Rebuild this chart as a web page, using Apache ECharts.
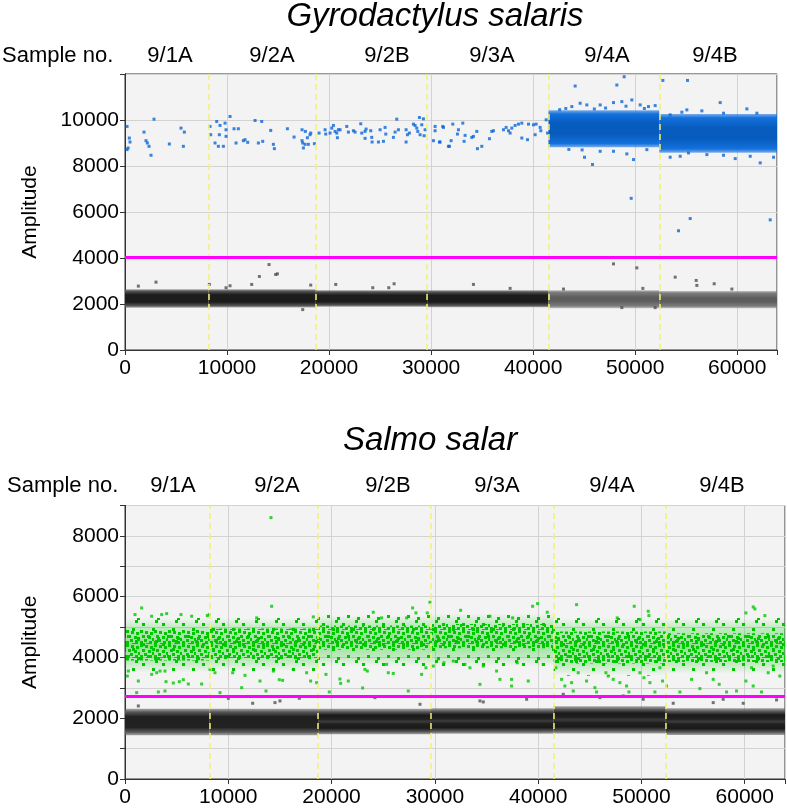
<!DOCTYPE html>
<html><head><meta charset="utf-8">
<script src="https://cdn.jsdelivr.net/npm/echarts@6/dist/echarts.min.js"></script>
<style>html,body{margin:0;padding:0;background:#fff}#c{width:787px;height:808px}</style>
</head><body><div id="c"></div><script>
// ---------- shared ----------
const sampleNames = ['9/1A', '9/2A', '9/2B', '9/3A', '9/4A', '9/4B'];
const sampleBounds = [8190, 18700, 29620, 41500, 52360];
const bandEdges = [0, 8190, 18700, 29620, 41500, 52360, 63900];
const xMax = 63900;

// ---------- Gyrodactylus salaris ----------
const gsThreshold = 4050;
const gsYMax = 12000;
// negative droplet cloud extent per sample
const gsNegLo = [1840, 1850, 1880, 1860, 1820, 1820];
const gsNegHi = [2640, 2640, 2600, 2600, 2600, 2560];
// positive dense cloud (9/4A, 9/4B)
const gsPosEdges = [41500, 52360, 63900];
const gsPosLo = [8820, 8580];
const gsPosHi = [10420, 10260];
// individual positive droplets
const gsPosPoints = [
 [200,9720],[200,8713],[300,8783],[425,9215],[490,9043],[1863,9474],[2059,9101],[2190,9000],[2353,8856],[2549,8467],
 [2843,10036],[4346,8957],[5490,9647],[5817,9474],[5719,8856],
 [8333,9720],[8398,9360],[8824,9000],[8987,9936],[9150,8856],[9248,9360],[9314,9763],[9641,8856],[9804,9864],[9902,9576],
 [9902,9288],[10294,10152],[10686,9619],[10882,9000],[11111,9619],[11601,9101],[11765,9144],[12026,9029],[12745,9979],
 [13072,9000],[13399,9936],[13497,9072],[14281,9547],[14542,8942],[14640,8755],[15915,9619],[16569,9259],[17353,9576],
 [17353,9101],[17418,9000],[17484,8784],[17680,9504],[17647,8942],[17876,9230],[17974,8942],[18137,9360],[18203,9432],[18562,8971],
 [19020,9432],[19608,9576],[19673,9389],[20098,9432],[20261,9647],[20425,9763],[20588,9504],[20752,9432],[20915,9576],
 [20817,9230],[21078,9576],[21732,9720],[21895,9475],[22386,9533],[22549,9475],[23105,9835],[23203,9432],[23529,9504],
 [23627,9605],[23529,9202],[24085,9533],[24183,9245],[24216,9043],[24837,9043],[25000,9576],[25327,9072],[25490,9677],
 [25556,9389],[26308,9245],[26471,9475],[26634,10036],[26797,9576],[27549,9576],[27549,9043],[27680,9360],[27876,9432],
 [28268,9821],[28431,9763],[28595,9647],[28693,9504],[28856,10109],[28922,9360],[29085,9792],[29248,10051],[29314,9317],[29412,9576],
 [30229,9101],[30392,9720],[30392,9533],[30817,9043],[31144,9720],[31699,8856],
 [30882,9042],[31209,9677],[31797,8856],[32124,9821],[31961,9101],[32680,9576],[32582,9389],[33104,9864],[33333,9331],
 [33235,9072],[33987,9245],[34150,9288],[34477,9504],[34542,8755],[34967,8856],[35719,9187],[35948,9504],[36111,9533],
 [37092,9576],[37353,9677],[37582,9533],[37745,9432],[37908,9648],[38235,9763],[38562,9821],[38889,9864],[38889,9216],
 [39543,9821],[39445,9144],[40033,9792],[40294,9821],[40196,9360],[40686,9677],[40752,9533],[41275,10008],[41405,9432],
 [44118,11477],[48203,11520],[48922,11880],[52712,11721],[55131,11721],[58333,10757],[49608,6595],[45817,8064],[45033,8380],
 [49837,8280],[55392,5716],[54248,5184],[63235,5659],[62255,8136],
 [43791,10584],[44608,10728],[45262,10656],[46569,10656],[47876,10757],[48693,10800],[49674,10872],[50490,10656],[51307,10584],[51961,10627],
 [42600,10450],[43200,10500],[47100,10520],[49100,10600],[50900,10500],[46000,10480],
 [53431,10224],[54575,10339],[55065,10440],[56536,10397],[58660,10296],[60948,10483],[61928,10296],
 [53431,8381],[54412,8424],[55229,8568],[57026,8496],[58660,8467],[59804,8323],[61275,8424],[63562,8381],
 [46569,8640],[47876,8640],[49183,8525],[51144,8712],[43500,8720],[44800,8700]
];
// negative outliers
const gsNegPoints = [
 [1307,2778],[3039,2951],[8268,2851],[9902,2707],[10294,2793],[12418,2851],[13170,3197],[14118,3715],[14771,3283],[14935,3312],
 [17418,1757],[18203,2822],[20654,2851],[24281,2707],[25850,2707],[26373,2880],
 [34150,2851],[37745,2679],[42974,2650],[47876,3744],[50163,3571],[50752,2679],[48693,1843],[51961,1843],[53922,3168],
 [55980,3024],[56046,2808],[57745,2880],[59477,2650]
];

// ---------- Salmo salar ----------
const ssThreshold = 2730;
const ssYMax = 9000;
const ssNegLo = [1440, 1440, 1470, 1490, 1500, 1450];
const ssNegHi = [2310, 2310, 2310, 2330, 2390, 2330];
const ssPosOuterLo = [3500, 3550, 3700, 3700, 3400, 3450];
const ssPosOuterHi = [5300, 5300, 5400, 5450, 5300, 5300];
const ssPosCoreLo  = [3900, 3950, 4250, 4300, 3800, 3850];
const ssPosCoreHi  = [4900, 4950, 5050, 5100, 4850, 4800];
const ssPosPoints = [
 [14133,8601],[1613,5629],[968,5410],[2575,5356],[3550,5410],[4033,5443],[5421,5410],[6453,5356],[7970,5377],[8163,5410],
 [14197,5684],[12746,5301],[18229,5334],[24039,5487],[24845,5301],[27265,5301],[27845,5629],[28168,5465],[29524,5815],[29266,5465],
 [323,3552],[226,3388],[1291,3224],[2582,3443],[3065,3497],[3388,3552],[3872,3552],[3969,3203],[4679,3158],[5260,3203],
 [5647,3268],[6131,3126],[3872,2896],[3227,2864],[1129,2842],[7421,3126],[8228,3607],[8712,3497],[9195,2842],[10424,3497],
 [11617,3410],[11294,3006],[13069,3224],[13650,2896],[14359,3552],[14939,3268],[15262,3246],[16294,3607],[17585,3497],[17972,3224],
 [18552,3170],[19456,3443],[19779,2864],[20811,3290],[20876,3148],[21618,3224],[23007,2995],[23233,3607],[23459,3552],
 [25329,3771],[25491,3497],[25975,3475],[27426,2896],[28717,3443],[29136,3661],[29846,3716],[30330,3956],[30878,3825],
 [32496,5552],[35332,5356],[37526,5301],[39462,5684],[39946,5771],[40881,5487],[43721,5738],[47657,5301],[49303,5684],
 [50658,5520],[50722,5377],[49852,5247],[60113,5465],[60822,5662],[60984,5596],[61952,5377],
 [31783,3880],[32912,3771],[33396,3661],[34686,3716],[35977,3552],[36299,3279],[37428,3279],[37428,3060],[34363,3115],
 [37977,3825],[39042,3224],[40494,3771],[41720,3661],[42268,3279],[42591,3060],[43236,3170],[43397,2896],[43881,3497],
 [44688,3224],[45495,3006],[45656,2864],[46560,3497],[46786,3388],[47270,3279],[47915,3170],[48561,3060],[48787,2864],
 [49852,3497],[50239,3333],[50820,3170],[51304,2864],[51788,3661],[52046,3224],[52433,3060],[53724,2864],[54853,3279],
 [55660,2973],[56305,3497],[56950,3279],[57531,3115],[58241,2864],[59209,2896],[60113,3224],[60661,3661],[60822,3060],
 [61629,2864],[62274,3497],[62758,3716],[63403,3388]
];
const ssNegPoints = [
 [1290,2404],[10002,2656],[12360,2492],[14520,2514],[15005,2569],[16877,2656],[24200,2678],[28560,2459],
 [34364,2569],[34687,2536],[38885,2624],[42430,2787],[45980,2678],[48237,2733],[50175,2624],[53077,2492],
 [56950,2514],[57915,2624],[59853,2492],[63084,2602]
];

// ---------- styling helpers ----------
function grad(stops) {
  return new echarts.graphic.LinearGradient(0, 0, 0, 1, stops.map(s => ({ offset: s[0], color: s[1] })));
}
function speckle(size, dots, color) {
  const c = document.createElement('canvas');
  c.width = size; c.height = size;
  const ctx = c.getContext('2d');
  ctx.fillStyle = color;
  dots.forEach(d => ctx.fillRect(d[0], d[1], 3, 3));
  return { type: 'pattern', image: c, repeat: 'repeat' };
}
const denseGreen = speckle(14, [[0,0],[5,1],[10,2],[2,5],[8,6],[12,8],[4,9],[0,11],[9,11],[6,13]], '#00c800');
const sparseGreen = speckle(20, [[2,3],[12,8],[7,15],[17,17],[15,0]], '#00c400');
const darkNeg = grad([[0,'rgba(95,95,95,0.5)'],[0.1,'#555'],[0.3,'#1c1c1c'],[0.7,'#1c1c1c'],[0.9,'#555'],[1,'rgba(95,95,95,0.5)']]);
const lightNeg = grad([[0,'rgba(125,125,125,0.45)'],[0.12,'#7c7c7c'],[0.4,'#5d5d5d'],[0.6,'#5d5d5d'],[0.88,'#7c7c7c'],[1,'rgba(125,125,125,0.45)']]);
const bluePos = grad([[0,'rgba(20,112,222,0.55)'],[0.1,'#1470dc'],[0.35,'#075cbe'],[0.65,'#075cbe'],[0.9,'#1470dc'],[1,'rgba(20,112,222,0.55)']]);
const ssNegSingle = grad([[0,'rgba(100,100,100,0.55)'],[0.12,'#585858'],[0.3,'#202020'],[0.7,'#222'],[0.88,'#585858'],[1,'rgba(100,100,100,0.55)']]);
const ssNegDouble = grad([[0,'rgba(100,100,100,0.55)'],[0.12,'#585858'],[0.25,'#1a1a1a'],[0.4,'#202020'],[0.5,'#3c3c3c'],[0.6,'#202020'],[0.76,'#1a1a1a'],[0.9,'#585858'],[1,'rgba(100,100,100,0.55)']]);
const greenTint = grad([[0,'rgba(0,200,0,0)'],[0.2,'rgba(0,200,0,0.22)'],[0.5,'rgba(0,200,0,0.42)'],[0.8,'rgba(0,200,0,0.22)'],[1,'rgba(0,200,0,0)']]);

function zipBand(edges, lo, hi) {
  return lo.map((l, i) => [edges[i], edges[i + 1], l, hi[i]]);
}
function bandRender(fills) {
  return function (params, api) {
    const a = api.coord([api.value(0), api.value(3)]);
    const b = api.coord([api.value(1), api.value(2)]);
    return { type: 'rect', shape: { x: a[0], y: a[1], width: b[0] - a[0], height: b[1] - a[1] },
      style: { fill: fills[params.dataIndex % fills.length] } };
  };
}
function bandSeries(ax, data, fills, z) {
  return { type: 'custom', xAxisIndex: ax, yAxisIndex: ax, renderItem: bandRender(fills), data: data,
    encode: { x: [0, 1], y: [2, 3] }, silent: true, z: z, clip: true };
}
const FONT = 'Liberation Sans, Arial, sans-serif';
function gridBox(left, top, width, height) {
  return { left, top, width, height, show: true, backgroundColor: '#f3f3f3', borderColor: '#333', borderWidth: 1, containLabel: false };
}
function mainX(g) {
  return { type: 'value', gridIndex: g, min: 0, max: xMax, interval: 10000,
    axisLine: { show: true, lineStyle: { color: '#000', width: 1 } },
    axisTick: { show: true, length: 5, lineStyle: { color: '#000' } },
    axisLabel: { fontSize: 21, color: '#000', fontFamily: FONT, margin: 8, showMaxLabel: false,
      formatter: v => (v % 10000 === 0 ? String(v) : '') },
    splitLine: { show: true, lineStyle: { color: '#d2d2d2', width: 1 } } };
}
function topX(g) {
  return { type: 'value', gridIndex: g, position: 'top', min: 0, max: xMax, interval: 10000,
    axisLine: { show: true, lineStyle: { color: '#333' } },
    axisTick: { show: true, inside: true, length: 5, lineStyle: { color: '#333' } },
    axisLabel: { show: false }, splitLine: { show: false } };
}
function mainY(g, max, interval, labelStep) {
  return { type: 'value', gridIndex: g, min: 0, max: max, interval: interval,
    name: 'Amplitude', nameLocation: 'middle', nameGap: 84,
    nameTextStyle: { fontSize: 21, color: '#000', fontFamily: FONT },
    axisLine: { show: true, lineStyle: { color: '#000' } },
    axisTick: { show: true, length: 5, lineStyle: { color: '#000' } },
    axisLabel: { fontSize: 21, color: '#000', fontFamily: FONT, margin: 6, showMaxLabel: false,
      formatter: v => (v % labelStep === 0 ? String(v) : '') },
    splitLine: { show: true, lineStyle: { color: '#d2d2d2', width: 1 } } };
}
function rightY(g, max, interval) {
  return { type: 'value', gridIndex: g, position: 'right', min: 0, max: max, interval: interval,
    axisLine: { show: true, lineStyle: { color: '#333' } },
    axisTick: { show: true, inside: true, length: 5, lineStyle: { color: '#333' } },
    axisLabel: { show: false }, splitLine: { show: false } };
}
function refLines(threshold) {
  const d = sampleBounds.map(v => ({ xAxis: v, lineStyle: { color: '#f2f270', width: 1.5, type: [6, 4] } }));
  d.push({ yAxis: threshold, lineStyle: { color: '#ff00ff', width: 3, type: 'solid' } });
  return { silent: true, symbol: ['none', 'none'], label: { show: false }, animation: false, data: d };
}

const chart = echarts.init(document.getElementById('c'), null, { renderer: 'canvas' });
const option = {
  animation: false,
  backgroundColor: '#fff',
  grid: [gridBox(125, 74, 652, 276), gridBox(125, 505.5, 660, 274.5)],
  xAxis: [mainX(0), topX(0), mainX(1), topX(1)],
  yAxis: [mainY(0, gsYMax, 2000, 2000), rightY(0, gsYMax, 2000), mainY(1, ssYMax, 1000, 2000), rightY(1, ssYMax, 1000)],
  series: [
    // top chart
    bandSeries(0, zipBand(bandEdges, gsNegLo, gsNegHi), [darkNeg, darkNeg, darkNeg, darkNeg, lightNeg, lightNeg], 2),
    bandSeries(0, zipBand(gsPosEdges, gsPosLo, gsPosHi), [bluePos], 2),
    { type: 'scatter', xAxisIndex: 0, yAxisIndex: 0, symbol: 'rect', symbolSize: 3, data: gsNegPoints,
      itemStyle: { color: '#505050' }, silent: true, z: 4 },
    { type: 'scatter', xAxisIndex: 0, yAxisIndex: 0, symbol: 'rect', symbolSize: 3, data: gsPosPoints,
      itemStyle: { color: '#0b66d6' }, silent: true, z: 4, markLine: refLines(gsThreshold) },
    // bottom chart
    bandSeries(2, zipBand(bandEdges, ssNegLo, ssNegHi), [ssNegSingle, ssNegSingle, ssNegDouble, ssNegDouble, ssNegDouble, ssNegDouble], 2),
    bandSeries(2, zipBand(bandEdges, ssPosOuterLo, ssPosOuterHi), [greenTint], 2),
    bandSeries(2, zipBand(bandEdges, ssPosOuterLo, ssPosOuterHi), [sparseGreen], 3),
    bandSeries(2, zipBand(bandEdges, ssPosCoreLo, ssPosCoreHi), [denseGreen], 3),
    { type: 'scatter', xAxisIndex: 2, yAxisIndex: 2, symbol: 'rect', symbolSize: 3, data: ssNegPoints,
      itemStyle: { color: '#505050' }, silent: true, z: 4 },
    { type: 'scatter', xAxisIndex: 2, yAxisIndex: 2, symbol: 'rect', symbolSize: 3, data: ssPosPoints,
      itemStyle: { color: '#00c800' }, silent: true, z: 4, markLine: refLines(ssThreshold) }
  ],
  graphic: []
};

// texts: titles and sample labels
const topLabelX = [170, 272, 387, 492, 607, 715];
const botLabelX = [173, 277, 388, 497, 612, 722];
function txt(x, y, text, size, italic, align) {
  return { type: 'text', x: x, y: y, silent: true, z: 10,
    style: { text: text, fill: '#000', font: (italic ? 'italic ' : '') + size + 'px ' + FONT,
      textAlign: align || 'center', textVerticalAlign: 'middle' } };
}
option.graphic.push(txt(435, 17, 'Gyrodactylus salaris', 33, true));
option.graphic.push(txt(430, 441, 'Salmo salar', 33, true));
option.graphic.push(txt(2, 56, 'Sample no.', 22, false, 'left'));
option.graphic.push(txt(7, 486, 'Sample no.', 22, false, 'left'));
sampleNames.forEach((n, i) => {
  option.graphic.push(txt(topLabelX[i], 56, n, 22, false));
  option.graphic.push(txt(botLabelX[i], 486, n, 22, false));
});
chart.setOption(option);
</script></body></html>
